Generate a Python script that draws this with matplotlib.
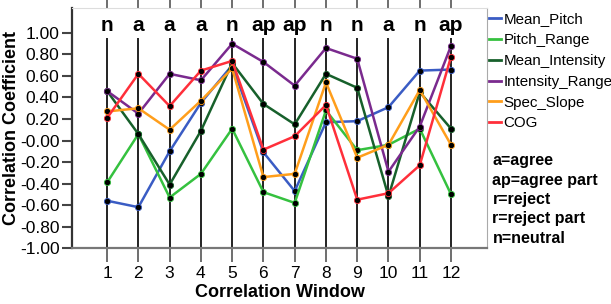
import numpy as np
import matplotlib.pyplot as plt
from matplotlib.lines import Line2D

plt.rcParams['font.family'] = ['Liberation Sans', 'DejaVu Sans']

# Data
windows = np.arange(1, 13)
agreement = ['n', 'a', 'a', 'a', 'n', 'ap', 'ap', 'n', 'n', 'a', 'n', 'ap']

mean_pitch = [-0.56, -0.62, -0.10, 0.35, 0.70, -0.11, -0.47, 0.17, 0.18, 0.31, 0.65, 0.66]
pitch_range = [-0.39, 0.06, -0.53, -0.31, 0.11, -0.48, -0.58, 0.28, -0.09, -0.04, 0.11, -0.50]
mean_intensity = [0.46, 0.06, -0.41, 0.09, 0.72, 0.34, 0.15, 0.62, 0.49, -0.52, 0.45, 0.11]
intensity_range = [0.46, 0.25, 0.62, 0.56, 0.90, 0.73, 0.51, 0.86, 0.76, -0.29, 0.13, 0.88]
spec_slope = [0.27, 0.30, 0.10, 0.37, 0.67, -0.34, -0.31, 0.54, -0.16, -0.04, 0.47, -0.04]
cog = [0.21, 0.62, 0.32, 0.65, 0.74, -0.085, 0.04, 0.33, -0.55, -0.49, -0.23, 0.78]

series_names = ['Mean_Pitch', 'Pitch_Range', 'Mean_Intensity', 'Intensity_Range', 'Spec_Slope', 'COG']
series_vals = [mean_pitch, pitch_range, mean_intensity, intensity_range, spec_slope, cog]
colors = ['#3a5cc4', '#35c13f', '#17602b', '#7a2a8e', '#ff9e1b', '#ff2f3a']

key_lines = ['a=agree', 'ap=agree part', 'r=reject', 'r=reject part', 'n=neutral']

# Figure setup
fig = plt.figure(figsize=(6.11, 3.04), dpi=100)
ax = fig.add_axes([0.118, 0.184, 0.679, 0.790])
ax.set_xlim(-0.12, 13.15)
ax.set_ylim(-1.0, 1.233)

# vertical window lines
ax.vlines(windows, -1.0, 0.95, color='#222222', lw=1.4, zorder=1)

# series lines with dots
for vals, c in zip(series_vals, colors):
    ax.plot(windows, vals, color=c, lw=1.8, zorder=2,
            marker='o', markersize=4.5, markerfacecolor='black',
            markeredgecolor=c, markeredgewidth=0.6)

# agreement labels above each window
for x, lab in zip(windows, agreement):
    ax.text(x, 1.07, lab, ha='center', va='center', fontsize=15, fontweight='bold')

# axes styling
ax.set_yticks(np.arange(-1.0, 1.01, 0.2))
ax.set_yticklabels(['%.2f' % v for v in np.arange(-1.0, 1.01, 0.2)])
ax.set_xticks(windows)
ax.tick_params(axis='y', length=7, width=1.5, color='#444444', labelsize=12.5, pad=2)
ax.tick_params(axis='x', length=10, width=1.2, color='#555555', labelsize=12.5, pad=3)
ax.tick_params(axis='x', which='both', top=True, direction='out')
ax.spines['left'].set_color('#333333')
ax.spines['left'].set_linewidth(1.6)
ax.spines['bottom'].set_color('#777777')
ax.spines['bottom'].set_linewidth(1.6)
ax.spines['right'].set_color('#aaaaaa')
ax.spines['top'].set_color('#dddddd')

ax.set_ylabel('Correlation Coefficient', fontsize=13, fontweight='bold', va='center')
ax.yaxis.set_label_coords(-0.146, 0.5)
ax.set_xlabel('Correlation Window', fontsize=13, fontweight='bold', va='center')
ax.xaxis.set_label_coords(0.5, -0.185)

# legend at the right
handles = [Line2D([0], [0], color=c, lw=2) for c in colors]
fig.legend(handles, series_names, loc='upper left', bbox_to_anchor=(0.783, 0.994),
           frameon=False, fontsize=10.9, handlelength=0.8, handletextpad=0.15,
           labelspacing=0.45, borderaxespad=0.3)

# agreement key
for i, t in enumerate(key_lines):
    fig.text(0.806, 1 - (161 + i * 19.3) / 304, t, fontsize=11.5, fontweight='bold', va='center')

fig.savefig('out.png', dpi=100)
